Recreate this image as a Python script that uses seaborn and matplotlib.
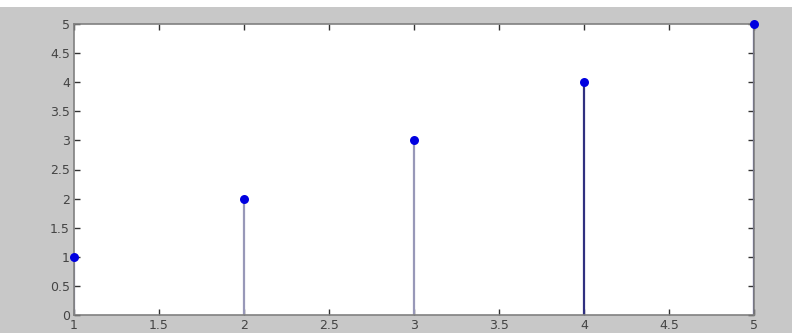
import matplotlib
matplotlib.use("Agg")
import matplotlib.pyplot as plt
import numpy as np
import pandas as pd
import seaborn as sns
from matplotlib.patches import Rectangle

# data
n = [1, 2, 3, 4, 5]
vals = [1, 2, 3, 4, 5]
xticks = [1, 1.5, 2, 2.5, 3, 3.5, 4, 4.5, 5]
yticks = [0, 0.5, 1, 1.5, 2, 2.5, 3, 3.5, 4, 4.5, 5]

df = pd.DataFrame({'n': n, 'val': vals})

sns.set_style("ticks")
plt.rcParams['font.family'] = ['DejaVu Sans']

fig = plt.figure(figsize=(7.92, 3.33), dpi=100, facecolor='#c8c8c8')
# white strip along the top of the screenshot
fig.add_artist(Rectangle((0, 1 - 7 / 333), 1, 7 / 333, transform=fig.transFigure,
                         facecolor='white', edgecolor='none', zorder=-1))
ax = fig.add_axes([74 / 792, 1 - 315 / 333, 680 / 792, 291 / 333])
ax.set_facecolor('white')

stem_cols = ['#8888a8', '#9898b8', '#9898b8', '#303080', '#4848a0']
ax.vlines(df['n'], 0, df['val'], colors=stem_cols, linewidth=1.6, zorder=2)
sns.scatterplot(data=df, x='n', y='val', ax=ax, color='#0000e0', s=42,
                marker='o', edgecolor='#0000e0', linewidth=0, zorder=3,
                clip_on=False)

ax.set_xlim(1, 5)
ax.set_ylim(0, 5)
ax.set_xticks(xticks)
ax.set_yticks(yticks)
ax.set_xticklabels(['1', '1.5', '2', '2.5', '3', '3.5', '4', '4.5', '5'])
ax.set_yticklabels(['0', '0.5', '1', '1.5', '2', '2.5', '3', '3.5', '4', '4.5', '5'])
ax.tick_params(direction='in', top=True, right=True, length=4, width=1,
               color='#333333', labelsize=9, labelcolor='#444444', pad=3)
ax.set_xlabel('')
ax.set_ylabel('')
for s in ax.spines.values():
    s.set_color('#808080')
    s.set_linewidth(1.2)

fig.savefig('out.png', dpi=100, facecolor=fig.get_facecolor())
